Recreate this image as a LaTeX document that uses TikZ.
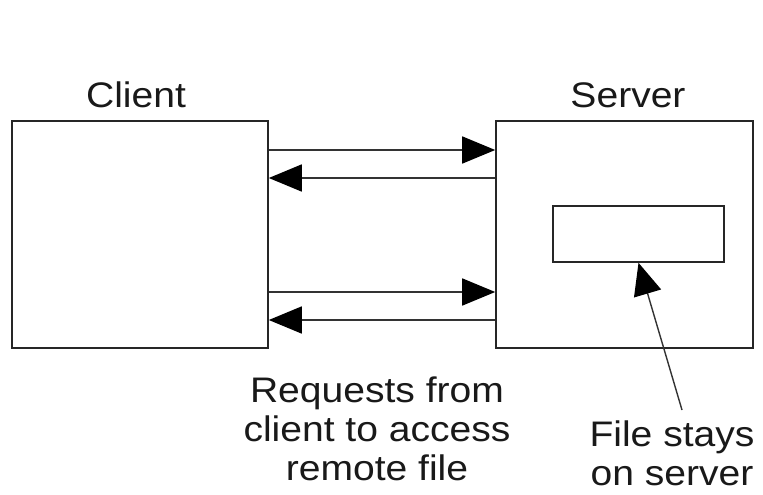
\documentclass[tikz,border=0pt]{standalone}
\usepackage{fontspec}
\setmainfont{Liberation Sans}
\usetikzlibrary{arrows.meta}
\newcommand\widetext[1]{\scalebox{1.1}[1]{#1}}
\begin{document}
\begin{tikzpicture}[x=1pt,y=-1pt,
  box/.style={draw=black!85, line width=1.6pt, rectangle, inner sep=0pt},
  arr/.style={draw=black!80, line width=1.6pt, -{Triangle[length=33pt,width=27pt,color=black]}},
  farr/.style={draw=black!80, line width=1.4pt, -{Triangle[length=32pt,width=28pt,color=black]}},
  lbl/.style={anchor=base, inner sep=0pt, text=black!90, font=\fontsize{35.5}{40}\selectfont}]
\useasboundingbox[fill=white] (0,0) rectangle (763,495);
% boxes
\node[box, minimum width=256pt, minimum height=227pt] (client) at (140,234.5) {};
\node[box, minimum width=257pt, minimum height=227pt] (server) at (624.5,234.5) {};
\node[box, minimum width=171pt, minimum height=56pt] (file) at (638.5,234) {};
% titles
\node[lbl] (clientlbl) at (136,107) {\widetext{Client}};
\node[lbl] (serverlbl) at (628,107) {\widetext{Server}};
% arrows
\draw[arr] (client.east |- 0,150) -- (server.west |- 0,150);
\draw[arr] (server.west |- 0,178) -- (client.east |- 0,178);
\draw[arr] (client.east |- 0,292) -- (server.west |- 0,292);
\draw[arr] (server.west |- 0,320) -- (client.east |- 0,320);
% file arrow
\coordinate (ftail) at (682,410);
\draw[farr] (ftail) -- (file.south);
% captions
\node[lbl] (req1) at (377,402) {\widetext{Requests from}};
\node[lbl] (req2) at (377,441) {\widetext{client to access}};
\node[lbl] (req3) at (377,480) {\widetext{remote file}};
\node[lbl] (fs1) at (672,446) {\widetext{File stays}};
\node[lbl] (fs2) at (672,485) {\widetext{on server}};
\end{tikzpicture}
\end{document}
